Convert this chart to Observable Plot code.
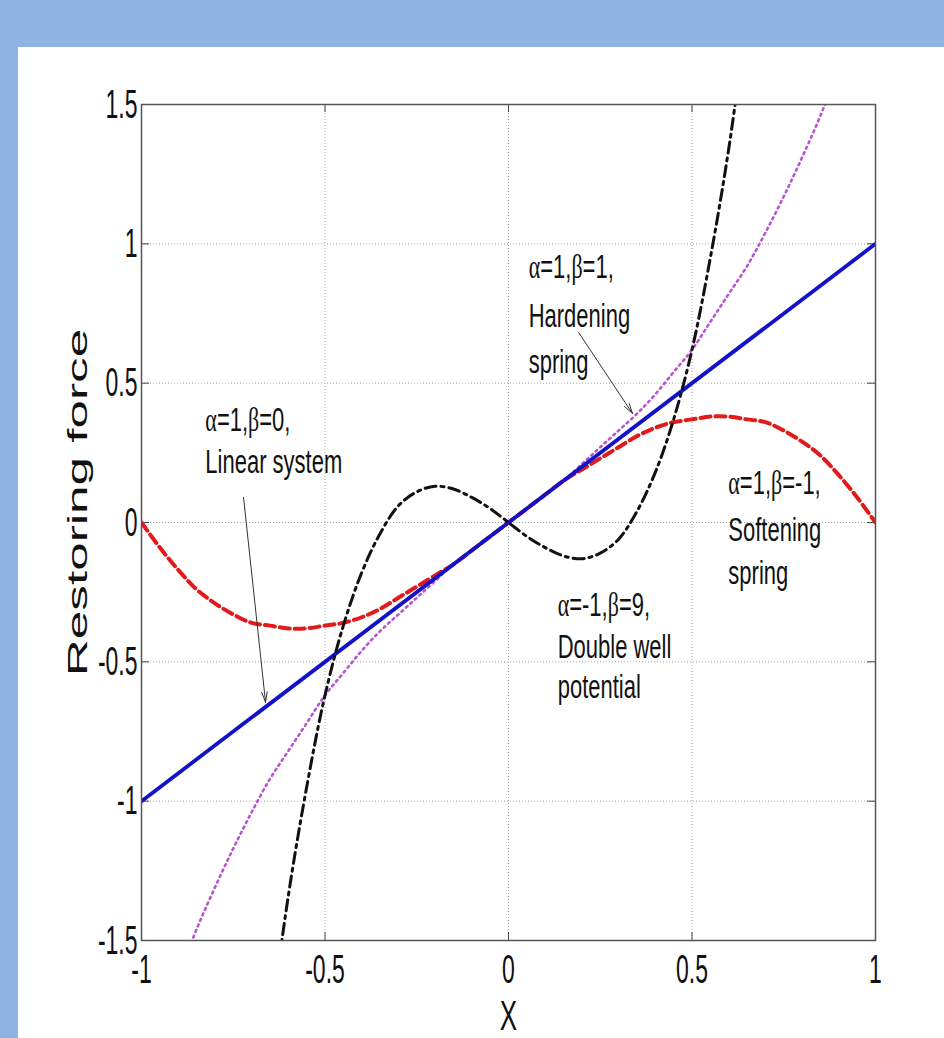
<!DOCTYPE html>
<html>
<head>
<meta charset="utf-8">
<script src="https://cdn.jsdelivr.net/npm/d3@7"></script>
<script src="https://cdn.jsdelivr.net/npm/@observablehq/plot@0.6"></script>
<style>
  html, body { margin: 0; padding: 0; background: #8eb4e3; width: 944px; height: 1038px; overflow: hidden; }
  #panel { position: absolute; left: 18px; top: 47px; width: 926px; height: 991px; background: #ffffff; }
</style>
</head>
<body>
<div id="panel"></div>
<script>
// ---- data ----
const xTicks = [-1, -0.5, 0, 0.5, 1];
const yTicks = [-1.5, -1, -0.5, 0, 0.5, 1, 1.5];
const xGrid = [-0.5, 0, 0.5];
const yGrid = [-1, -0.5, 0, 0.5, 1];

const xSample = [-1,-0.95,-0.9,-0.85,-0.8,-0.75,-0.7,-0.65,-0.6,-0.55,-0.5,-0.45,-0.4,-0.35,-0.3,-0.25,-0.2,-0.15,-0.1,-0.05,0,0.05,0.1,0.15,0.2,0.25,0.3,0.35,0.4,0.45,0.5,0.55,0.6,0.65,0.7,0.75,0.8,0.85,0.9,0.95,1];
// alpha=1, beta=-1 (softening spring, red dashed)
const softening = [0,-0.09,-0.17,-0.24,-0.29,-0.33,-0.36,-0.37,-0.38,-0.38,-0.37,-0.36,-0.34,-0.31,-0.27,-0.23,-0.19,-0.15,-0.10,-0.05,0,0.05,0.10,0.15,0.19,0.23,0.27,0.31,0.34,0.36,0.37,0.38,0.38,0.37,0.36,0.33,0.29,0.24,0.17,0.09,0];
// alpha=1, beta=1 (hardening spring, magenta dotted)
const hardening = [null,null,-1.63,-1.46,-1.31,-1.17,-1.04,-0.92,-0.82,-0.72,-0.62,-0.54,-0.46,-0.39,-0.33,-0.27,-0.21,-0.15,-0.10,-0.05,0,0.05,0.10,0.15,0.21,0.27,0.33,0.39,0.46,0.54,0.62,0.72,0.82,0.92,1.04,1.17,1.31,1.46,1.63,null,null];
// alpha=-1, beta=9 (double well potential, black dash-dot)
const doubleWell = [null,null,null,null,null,null,null,-1.82,-1.34,-0.95,-0.62,-0.37,-0.18,-0.04,0.06,0.11,0.13,0.12,0.09,0.05,0,-0.05,-0.09,-0.12,-0.13,-0.11,-0.06,0.04,0.18,0.37,0.62,0.95,1.34,1.82,null,null,null,null,null,null,null];
// alpha=1, beta=0 (linear system, blue solid)
const linearX = [-1, 1];
const linear = [-1, 1];

const annotText = ["α=1,β=0,", "Linear system", "α=1,β=1,", "Hardening", "spring", "α=-1,β=9,", "Double well", "potential", "α=1,β=-1,", "Softening", "spring"];
const annotX = [-0.826, -0.826, 0.055, 0.055, 0.055, 0.134, 0.134, 0.134, 0.599, 0.599, 0.599];
const annotY = [0.330, 0.179, 0.879, 0.700, 0.538, -0.334, -0.488, -0.628, 0.104, -0.065, -0.219];

const arrowX1 = [-0.722, 0.191];
const arrowY1 = [0.090, 0.682];
const arrowX2 = [-0.662, 0.338];
const arrowY2 = [-0.645, 0.391];

const xLabel = "X";
const yLabel = "Restoring force";

// ---- build ----
const W = 926, H = 991, ML = 123, MT = 57, MR = 69, MB = 98;
const plotW = W - ML - MR, plotH = H - MT - MB;
const tickLen = 8;

const sample = (ys) => xSample.map((x, i) => ({x, y: ys[i]}));
const softData = sample(softening);
const hardData = sample(hardening);
const dwData = sample(doubleWell);
const linData = linearX.map((x, i) => ({x, y: linear[i]}));
const arrows = arrowX1.map((d, i) => ({x1: arrowX1[i], y1: arrowY1[i], x2: arrowX2[i], y2: arrowY2[i]}));

const chart = Plot.plot({
  width: W, height: H,
  marginLeft: ML, marginTop: MT, marginRight: MR, marginBottom: MB,
  style: {fontFamily: "'Liberation Sans', Arial, sans-serif", fontSize: "23px", background: "#ffffff", color: "#111", overflow: "visible"},
  x: {domain: [-1, 1], ticks: xTicks, tickSize: 0, tickPadding: 13, tickFormat: d => String(d), label: null},
  y: {domain: [-1.5, 1.5], ticks: yTicks, tickSize: 0, tickPadding: 4, tickFormat: d => String(d), label: null},
  marks: [
    Plot.ruleX(xGrid, {x: d => d, stroke: "#a8a8a8", strokeWidth: 1, strokeDasharray: "1,2"}),
    Plot.ruleY(yGrid, {y: d => d, stroke: "#a8a8a8", strokeWidth: 1, strokeDasharray: "1,2"}),
    Plot.tickX(xTicks, {x: d => d, insetTop: plotH - tickLen, stroke: "#444", strokeWidth: 1}),
    Plot.tickX(xTicks, {x: d => d, insetBottom: plotH - tickLen, stroke: "#444", strokeWidth: 1}),
    Plot.tickY(yTicks, {y: d => d, insetRight: plotW - tickLen, stroke: "#444", strokeWidth: 1}),
    Plot.tickY(yTicks, {y: d => d, insetLeft: plotW - tickLen, stroke: "#444", strokeWidth: 1}),
    Plot.line(softData, {x: "x", y: "y", stroke: "#e31a1c", strokeWidth: 4, strokeDasharray: "10,5", curve: "catmull-rom", clip: true}),
    Plot.line(hardData, {x: "x", y: "y", stroke: "#b855d0", strokeWidth: 2.6, strokeDasharray: "2,4", curve: "catmull-rom", clip: true}),
    Plot.line(linData, {x: "x", y: "y", stroke: "#1212c8", strokeWidth: 3.8, clip: true}),
    Plot.line(dwData, {x: "x", y: "y", stroke: "#111", strokeWidth: 3, strokeDasharray: "11,5,3,5", curve: "catmull-rom", clip: true}),
    Plot.frame({stroke: "#555", strokeWidth: 1.5}),
    Plot.arrow(arrows, {x1: "x1", y1: "y1", x2: "x2", y2: "y2", stroke: "#333", strokeWidth: 1, headLength: 16, headAngle: 30}),
    Plot.text(annotText, {x: (d, i) => annotX[i], y: (d, i) => annotY[i], text: d => d, textAnchor: "start", lineAnchor: "bottom", fontSize: 22, fill: "#111"}),
    Plot.text([xLabel], {frameAnchor: "bottom", dy: 89, textAnchor: "middle", lineAnchor: "bottom", fontSize: 26, fill: "#111"}),
    Plot.text([yLabel], {frameAnchor: "left", dx: -55, dy: -20, rotate: -90, textAnchor: "middle", lineAnchor: "bottom", fontSize: 28, fill: "#111"})
  ]
});

document.getElementById("panel").appendChild(chart);

// ---- mimic the vertically stretched look of the original ----
const SVGNS = "http://www.w3.org/2000/svg";
function greekify(t) {
  const s = t.textContent;
  if (!/[αβ]/.test(s)) return;
  t.textContent = "";
  for (const part of s.split(/([αβ])/)) {
    if (!part) continue;
    const ts = document.createElementNS(SVGNS, "tspan");
    if (/[αβ]/.test(part)) ts.setAttribute("font-family", "'Liberation Serif', 'DejaVu Serif', serif");
    ts.textContent = part;
    t.appendChild(ts);
  }
}
chart.querySelectorAll("text").forEach(t => {
  const tr = t.getAttribute("transform") || "";
  const g = t.closest("g[aria-label]");
  const lab = g ? g.getAttribute("aria-label") : "";
  const txt = t.textContent;
  let extra;
  if (/tick label/.test(lab)) extra = " scale(1,1.8)";
  else if (txt === yLabel) extra = " scale(1.83,1)";
  else if (txt === xLabel) extra = " scale(1,1.6)";
  else { extra = " scale(1,1.5)"; greekify(t); }
  t.setAttribute("transform", tr + extra);
});
</script>
</body>
</html>
